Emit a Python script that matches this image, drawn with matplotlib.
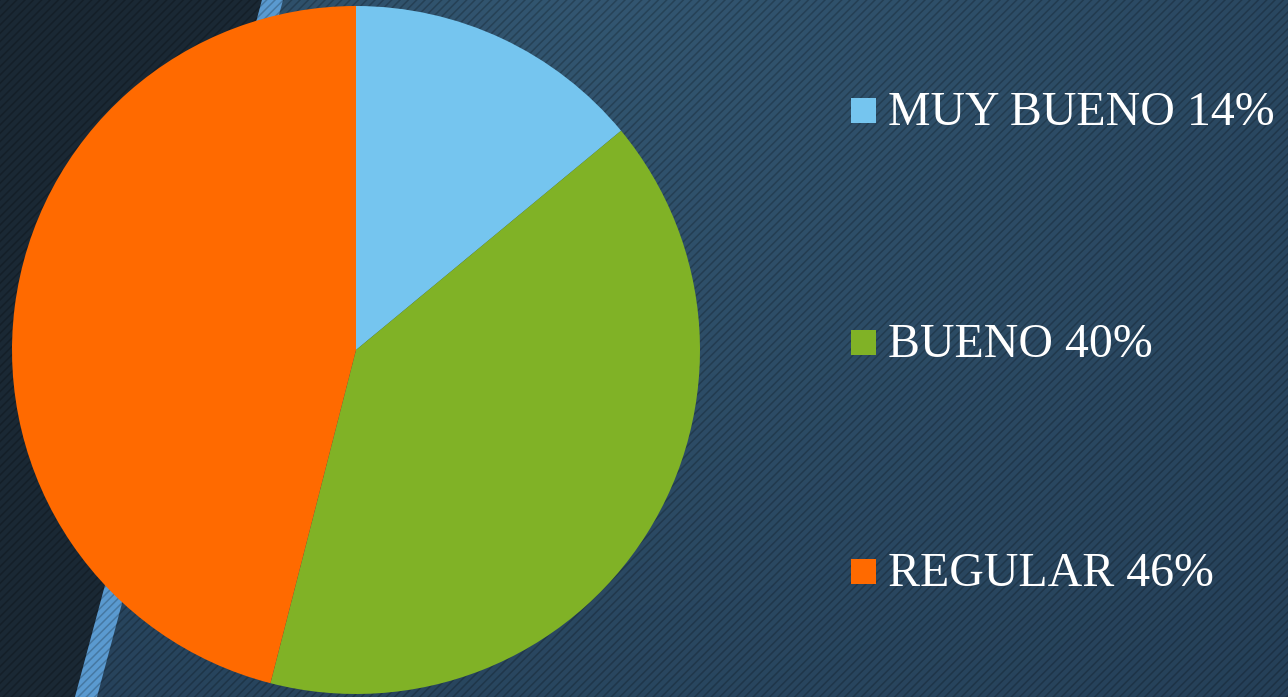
import numpy as np
import matplotlib
matplotlib.use("Agg")
import matplotlib.pyplot as plt
from matplotlib.patches import Polygon, Rectangle

categories = ["MUY BUENO", "BUENO", "REGULAR"]
values = [14, 40, 46]
colors = ["#75C5EF", "#80B226", "#FF6A00"]

W, H = 1288, 697
fig = plt.figure(figsize=(W / 100, H / 100), dpi=100)

# background gradient
bg = fig.add_axes([0, 0, 1, 1])
bg.set_xlim(0, W)
bg.set_ylim(H, 0)
bg.axis("off")
xx, yy = np.meshgrid(np.linspace(0, W, 322), np.linspace(0, H, 175))
d = np.sqrt(((xx - 600) / 1100) ** 2 + ((yy + 50) / 1100) ** 2)
c0 = np.array([0x33, 0x57, 0x72]) / 255
c1 = np.array([0x24, 0x3e, 0x56]) / 255
t = np.clip(d, 0, 1)[..., None]
img = c0 * (1 - t) + c1 * t
bg.imshow(img, extent=[0, W, H, 0], aspect="auto", zorder=0)
bg.add_patch(Polygon([(0, 0), (262, 0), (75, H), (0, H)], closed=True,
                     facecolor="#1a2834", edgecolor="none", zorder=1))
bg.add_patch(Polygon([(262, 0), (283, 0), (97, H), (75, H)], closed=True,
                     facecolor="#5a9ad0", edgecolor="none", zorder=1))
plt.rcParams["hatch.linewidth"] = 1.1
bg.add_patch(Rectangle((0, 0), W, H, facecolor="none", edgecolor=(0, 0, 0, 0.22),
                       linewidth=0, hatch="////", zorder=2))

# pie
cx, cy, r = 356, 350, 344
ax = fig.add_axes([(cx - r) / W, (H - cy - r) / H, 2 * r / W, 2 * r / H])
ax.pie(values, colors=colors, startangle=90, counterclock=False, radius=1,
       wedgeprops=dict(linewidth=0))
ax.set_xlim(-1, 1)
ax.set_ylim(-1, 1)
ax.set_aspect("equal")
ax.axis("off")

# legend
baselines = [125, 357, 586]
for cat, val, col, b in zip(categories, values, colors, baselines):
    bg.add_patch(Rectangle((851, b - 27), 25, 25, facecolor=col, edgecolor="none", zorder=3))
    bg.text(888, b, f"{cat} {val}%", fontsize=34.5, family="Liberation Serif",
            color="white", va="baseline", ha="left", zorder=4)

fig.savefig("out.png", dpi=100)
